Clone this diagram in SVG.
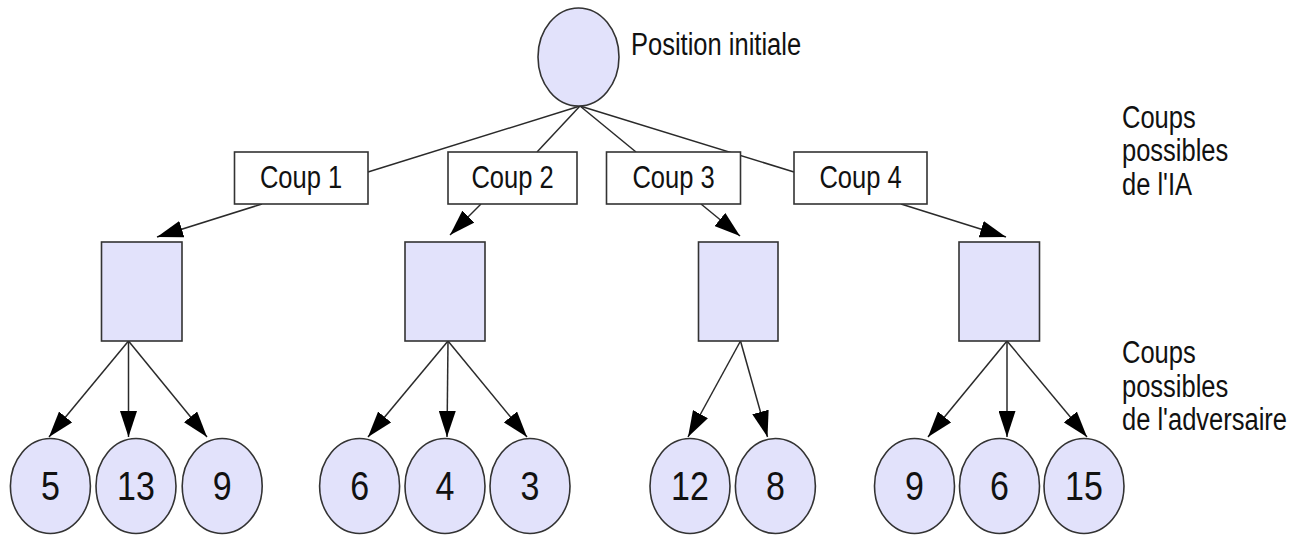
<svg xmlns="http://www.w3.org/2000/svg" width="1307" height="535" viewBox="0 0 1307 535">
<style>
.n{fill:#e2e2fb;stroke:#333;stroke-width:1.6}
.w{fill:#ffffff;stroke:#333;stroke-width:1.6}
.t{font-family:"Liberation Sans",Arial,sans-serif;font-size:25.5px;fill:#111}
.num{font-family:"Liberation Sans",Arial,sans-serif;font-size:34px;fill:#111;text-anchor:middle}
.c{text-anchor:middle}
.e{fill:none;stroke:#2a2a2a;stroke-width:1.5}
</style>
<defs>
<marker id="ar" markerUnits="userSpaceOnUse" markerWidth="26" markerHeight="17" refX="26" refY="8.5" orient="auto">
<path d="M0,0 L26,8.5 L0,17 z" fill="#000"/>
</marker>
</defs>
<rect width="1307" height="535" fill="#fff"/>
<g id="connectors">
<line class="e" x1="580" y1="106" x2="368" y2="172"/>
<line class="e" x1="580" y1="106" x2="537" y2="152"/>
<line class="e" x1="580" y1="106" x2="636" y2="152"/>
<line class="e" x1="580" y1="106" x2="794" y2="172"/>
<line class="e" x1="262" y1="204" x2="157" y2="237" marker-end="url(#ar)"/>
<line class="e" x1="481" y1="204" x2="450" y2="235" marker-end="url(#ar)"/>
<line class="e" x1="701" y1="204" x2="740" y2="236" marker-end="url(#ar)"/>
<line class="e" x1="901" y1="204" x2="1006" y2="237" marker-end="url(#ar)"/>
<line class="e" x1="128.5" y1="341" x2="49" y2="437" marker-end="url(#ar)"/>
<line class="e" x1="128.5" y1="341" x2="128.5" y2="437" marker-end="url(#ar)"/>
<line class="e" x1="128.5" y1="341" x2="207" y2="437" marker-end="url(#ar)"/>
<line class="e" x1="448" y1="341" x2="368" y2="437" marker-end="url(#ar)"/>
<line class="e" x1="448" y1="341" x2="447" y2="437" marker-end="url(#ar)"/>
<line class="e" x1="448" y1="341" x2="527" y2="437" marker-end="url(#ar)"/>
<line class="e" x1="740.5" y1="341" x2="688" y2="437" marker-end="url(#ar)"/>
<line class="e" x1="740.5" y1="341" x2="767.5" y2="437" marker-end="url(#ar)"/>
<line class="e" x1="1007" y1="341" x2="928" y2="437" marker-end="url(#ar)"/>
<line class="e" x1="1007" y1="341" x2="1007" y2="437" marker-end="url(#ar)"/>
<line class="e" x1="1007" y1="341" x2="1087" y2="437" marker-end="url(#ar)"/>
</g>
<g id="root">
<ellipse class="n" cx="578.5" cy="57" rx="40.5" ry="49"/>
</g>
<text id="label-position" class="t" transform="translate(631,55) scale(1,1.25)">Position initiale</text>
<g id="coup1"><rect class="w" x="234.5" y="152" width="133.5" height="52"/><text class="t c" transform="translate(301,188) scale(1,1.25)">Coup 1</text></g>
<g id="coup2"><rect class="w" x="448" y="152" width="129" height="52"/><text class="t c" transform="translate(512.5,188) scale(1,1.25)">Coup 2</text></g>
<g id="coup3"><rect class="w" x="606.5" y="152" width="134" height="52"/><text class="t c" transform="translate(673.5,188) scale(1,1.25)">Coup 3</text></g>
<g id="coup4"><rect class="w" x="794" y="152" width="133" height="52"/><text class="t c" transform="translate(860.5,188) scale(1,1.25)">Coup 4</text></g>
<g id="rep1"><rect class="n" x="101.5" y="242" width="80.5" height="99"/></g>
<g id="rep2"><rect class="n" x="405" y="242" width="80" height="99"/></g>
<g id="rep3"><rect class="n" x="698.5" y="242" width="79.5" height="99"/></g>
<g id="rep4"><rect class="n" x="959" y="242" width="80.5" height="99"/></g>
<g id="leaf1"><ellipse class="n" cx="50.4" cy="486" rx="40" ry="47.5"/><text class="num" transform="translate(50.4,500) scale(1,1.22)">5</text></g>
<g id="leaf2"><ellipse class="n" cx="136" cy="486" rx="40" ry="47.5"/><text class="num" transform="translate(136,500) scale(1,1.22)">13</text></g>
<g id="leaf3"><ellipse class="n" cx="222.2" cy="486" rx="40" ry="47.5"/><text class="num" transform="translate(222.2,500) scale(1,1.22)">9</text></g>
<g id="leaf4"><ellipse class="n" cx="359.6" cy="486" rx="40" ry="47.5"/><text class="num" transform="translate(359.6,500) scale(1,1.22)">6</text></g>
<g id="leaf5"><ellipse class="n" cx="445" cy="486" rx="40" ry="47.5"/><text class="num" transform="translate(445,500) scale(1,1.22)">4</text></g>
<g id="leaf6"><ellipse class="n" cx="530" cy="486" rx="40" ry="47.5"/><text class="num" transform="translate(530,500) scale(1,1.22)">3</text></g>
<g id="leaf7"><ellipse class="n" cx="690" cy="486" rx="40" ry="47.5"/><text class="num" transform="translate(690,500) scale(1,1.22)">12</text></g>
<g id="leaf8"><ellipse class="n" cx="775.4" cy="486" rx="40" ry="47.5"/><text class="num" transform="translate(775.4,500) scale(1,1.22)">8</text></g>
<g id="leaf9"><ellipse class="n" cx="914.5" cy="486" rx="40" ry="47.5"/><text class="num" transform="translate(914.5,500) scale(1,1.22)">9</text></g>
<g id="leaf10"><ellipse class="n" cx="999.5" cy="486" rx="40" ry="47.5"/><text class="num" transform="translate(999.5,500) scale(1,1.22)">6</text></g>
<g id="leaf11"><ellipse class="n" cx="1084" cy="486" rx="40" ry="47.5"/><text class="num" transform="translate(1084,500) scale(1,1.22)">15</text></g>
<g id="label-ia">
<text class="t" transform="translate(1122,128) scale(1,1.25)">Coups</text>
<text class="t" transform="translate(1122,161) scale(1,1.25)">possibles</text>
<text class="t" transform="translate(1122,195) scale(1,1.25)">de l'IA</text>
</g>
<g id="label-adv">
<text class="t" transform="translate(1122,363) scale(1,1.25)">Coups</text>
<text class="t" transform="translate(1122,397) scale(1,1.25)">possibles</text>
<text class="t" transform="translate(1122,430) scale(1,1.25)">de l'adversaire</text>
</g>
</svg>
